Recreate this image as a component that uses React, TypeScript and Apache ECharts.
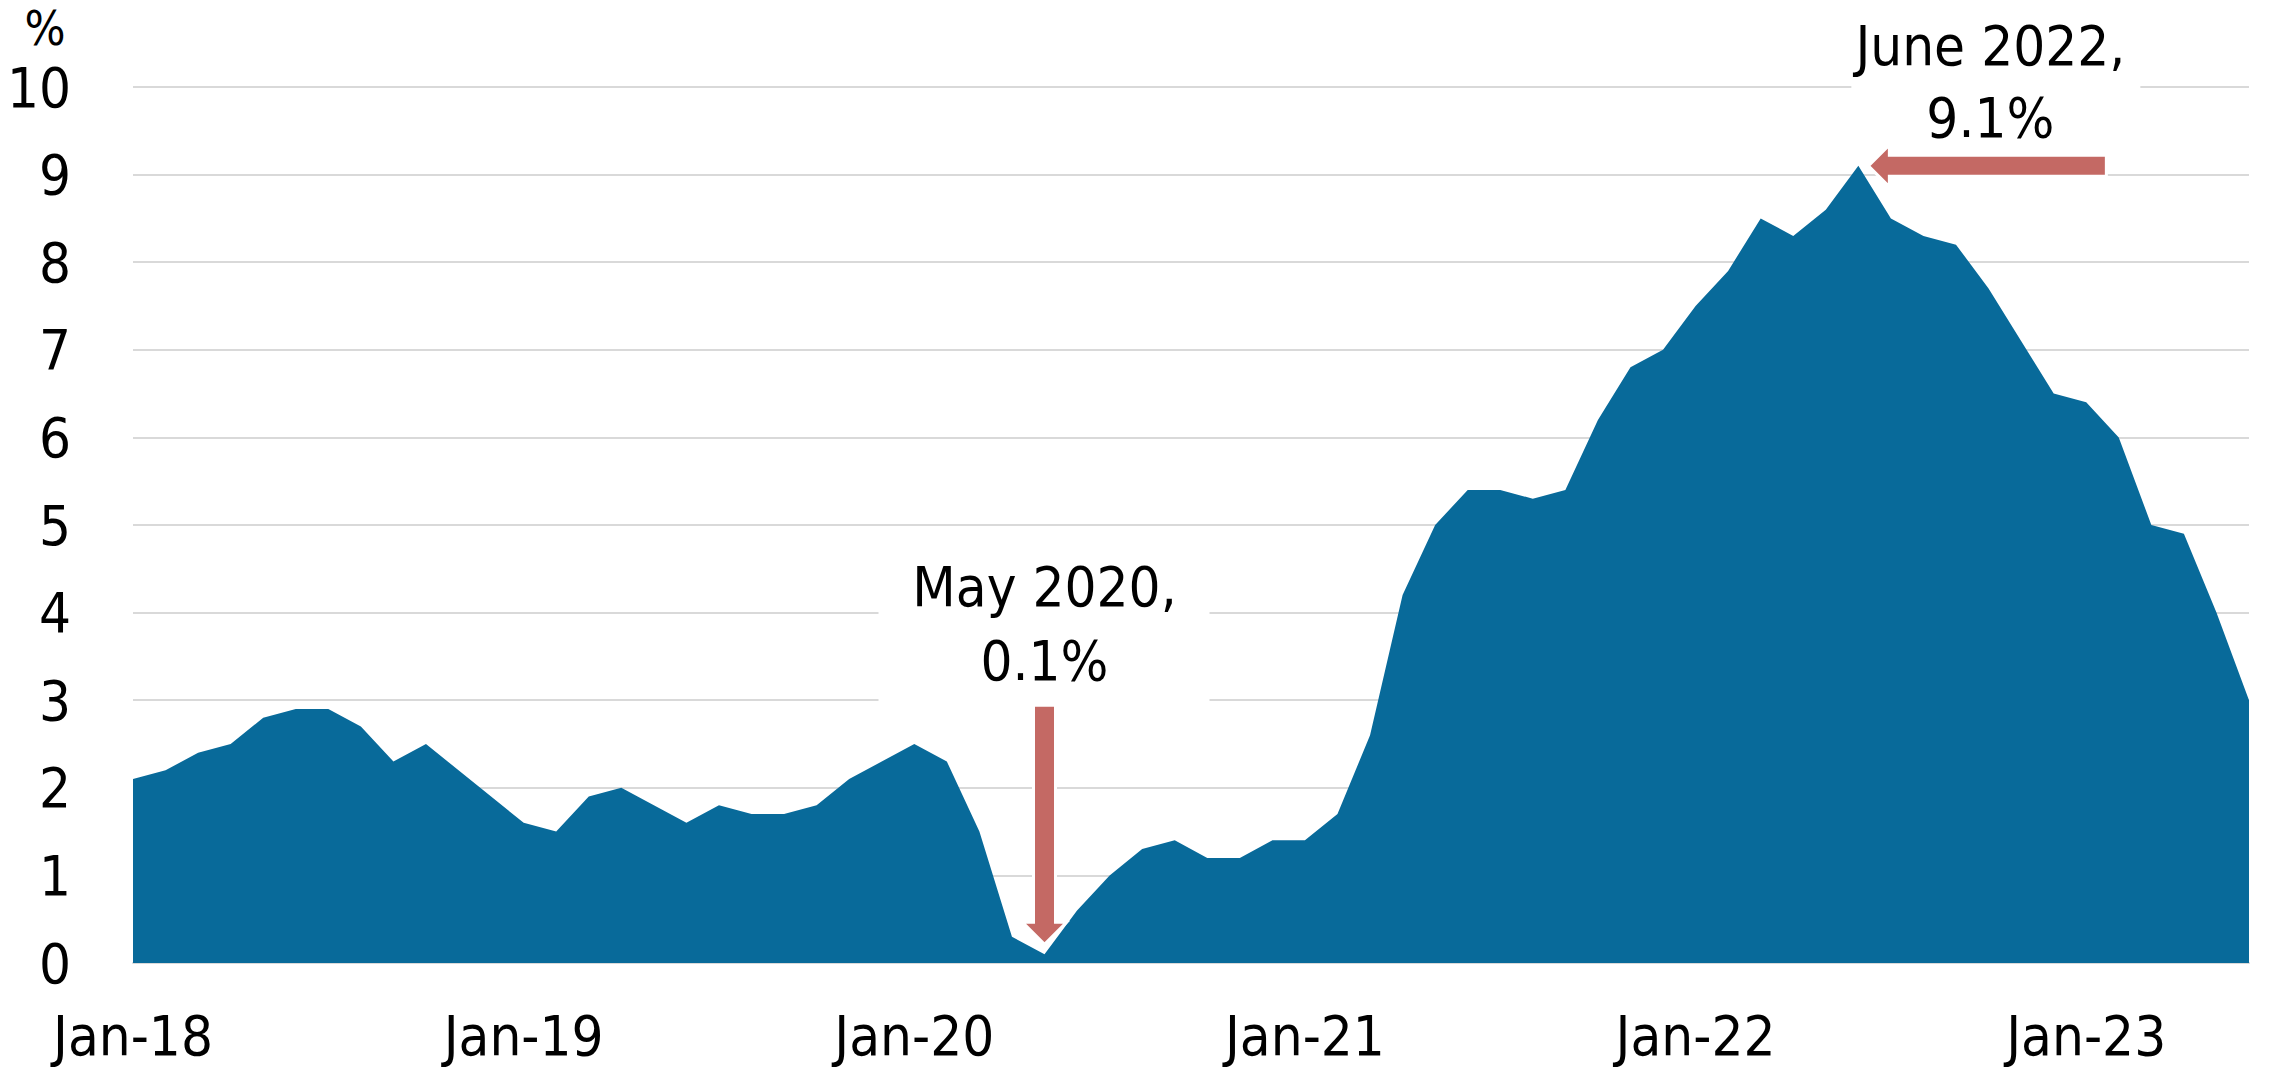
import React, { useEffect, useRef } from "react";
import * as echarts from "echarts";

const months = ["Jan", "Feb", "Mar", "Apr", "May", "Jun", "Jul", "Aug", "Sep", "Oct", "Nov", "Dec"];
const years = ["18", "19", "20", "21", "22", "23"];
const categories: string[] = [];
years.forEach((y) => months.forEach((m) => categories.push(`${m}-${y}`)));
const cats = categories.slice(0, 66);

const cpi2018 = [2.1, 2.2, 2.4, 2.5, 2.8, 2.9, 2.9, 2.7, 2.3, 2.5, 2.2, 1.9];
const cpi2019 = [1.6, 1.5, 1.9, 2.0, 1.8, 1.6, 1.8, 1.7, 1.7, 1.8, 2.1, 2.3];
const cpi2020 = [2.5, 2.3, 1.5, 0.3, 0.1, 0.6, 1.0, 1.3, 1.4, 1.2, 1.2, 1.4];
const cpi2021 = [1.4, 1.7, 2.6, 4.2, 5.0, 5.4, 5.4, 5.3, 5.4, 6.2, 6.8, 7.0];
const cpi2022 = [7.5, 7.9, 8.5, 8.3, 8.6, 9.1, 8.5, 8.3, 8.2, 7.7, 7.1, 6.5];
const cpi2023 = [6.4, 6.0, 5.0, 4.9, 4.0, 3.0];
const values = [...cpi2018, ...cpi2019, ...cpi2020, ...cpi2021, ...cpi2022, ...cpi2023];

const lowLabel = "May 2020,\n0.1%";
const lowIndex = 28;
const highLabel = "June 2022,\n9.1%";
const highIndex = 53;

const FONT = "'DejaVu Sans Condensed', 'Liberation Sans Narrow', sans-serif";
const AREA = "#086a9a";
const ARROW = "#c46964";
const GRID = "#d9d9d9";
const FS = 56;

export default function App() {
  const ref = useRef<HTMLDivElement>(null);
  useEffect(() => {
    if (!ref.current) return;
    const chart = echarts.init(ref.current, null, { renderer: "svg" });
    chart.setOption({
      animation: false,
      backgroundColor: "#ffffff",
      grid: { left: 133, right: 21, top: 87, bottom: 107, containLabel: false },
      xAxis: {
        type: "category",
        data: cats,
        boundaryGap: false,
        axisLine: { show: true, lineStyle: { color: GRID, width: 2 } },
        axisTick: { show: false },
        axisLabel: {
          interval: (i: number) => i % 12 === 0,
          margin: 72,
          verticalAlign: "middle",
          color: "#000",
          fontFamily: FONT,
          fontSize: FS,
        },
        splitLine: { show: false },
      },
      yAxis: {
        type: "value",
        min: 0,
        max: 10,
        interval: 1,
        axisLine: { show: false },
        axisTick: { show: false },
        axisLabel: { margin: 62, color: "#000", fontFamily: FONT, fontSize: FS },
        splitLine: { show: true, lineStyle: { color: GRID, width: 2 } },
      },
      series: [
        {
          type: "line",
          data: values,
          symbol: "none",
          lineStyle: { width: 0 },
          areaStyle: { color: AREA, opacity: 1 },
          z: 2,
        },
      ],
    });

    const [lx, ly] = chart.convertToPixel({ seriesIndex: 0 }, [lowIndex, values[lowIndex]]) as number[];
    const [hx, hy] = chart.convertToPixel({ seriesIndex: 0 }, [highIndex, values[highIndex]]) as number[];

    // down arrow for May 2020
    const dTipY = ly - 10;
    const dTop = dTipY - 239;
    const dHead = dTipY - 22;
    const downArrow = [
      [lx - 11, dTop], [lx + 11, dTop], [lx + 11, dHead], [lx + 22, dHead],
      [lx, dTipY], [lx - 22, dHead], [lx - 11, dHead],
    ];
    // left arrow for June 2022
    const hTipX = hx + 10;
    const hHead = hTipX + 21;
    const hEnd = hTipX + 238;
    const leftArrow = [
      [hTipX, hy], [hHead, hy - 21], [hHead, hy - 10.5], [hEnd, hy - 10.5],
      [hEnd, hy + 10.5], [hHead, hy + 10.5], [hHead, hy + 21],
    ];
    const lowTextY = dTop - 82;
    const highCx = (hTipX + hEnd) / 2 + 3;
    const highTextY = hy - 84;

    chart.setOption({
      graphic: [
        {
          type: "rect",
          shape: { x: lx - 166, y: lowTextY - 90, width: 331, height: 175 },
          style: { fill: "#fff" },
          z: 5,
        },
        {
          type: "rect",
          shape: { x: highCx - 139, y: 0, width: 289, height: highTextY + 62 },
          style: { fill: "#fff" },
          z: 5,
        },
        {
          type: "polygon",
          shape: { points: downArrow },
          style: { fill: ARROW, stroke: "#fff", lineWidth: 3 },
          z: 10,
        },
        {
          type: "polygon",
          shape: { points: leftArrow },
          style: { fill: ARROW, stroke: "#fff", lineWidth: 3 },
          z: 10,
        },
        {
          type: "text",
          x: lx,
          y: lowTextY,
          style: {
            text: lowLabel,
            align: "center",
            verticalAlign: "middle",
            fontFamily: FONT,
            fontSize: FS,
            lineHeight: 74,
            fill: "#000",
          },
          z: 11,
        },
        {
          type: "text",
          x: highCx,
          y: highTextY,
          style: {
            text: highLabel,
            align: "center",
            verticalAlign: "middle",
            fontFamily: FONT,
            fontSize: FS,
            lineHeight: 72,
            fill: "#000",
          },
          z: 11,
        },
        {
          type: "text",
          x: 45,
          y: 28,
          style: {
            text: "%",
            align: "center",
            verticalAlign: "middle",
            fontFamily: FONT,
            fontSize: 48,
            fill: "#000",
          },
          z: 11,
        },
      ],
    });

    return () => chart.dispose();
  }, []);
  return (
    <div
      ref={ref}
      style={{ position: "fixed", left: 0, top: 0, width: 2270, height: 1070, background: "#fff" }}
    />
  );
}
